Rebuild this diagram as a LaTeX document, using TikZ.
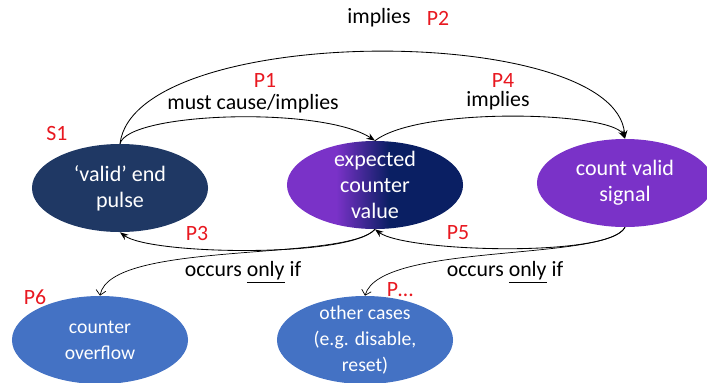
\documentclass[tikz,border=0pt]{standalone}
\usepackage{fontspec}
\setmainfont{Carlito}
\usetikzlibrary{positioning, arrows.meta, shapes.geometric}

\definecolor{pulsenavy}{RGB}{31,56,100}
\definecolor{cntpurple}{RGB}{122,50,200}
\definecolor{caseblue}{RGB}{68,114,196}
\definecolor{propred}{RGB}{232,24,32}

% purple on the left, dark blue on the right
\pgfdeclarehorizontalshading{expectshade}{100bp}{%
  rgb(0bp)=(0.478,0.196,0.784); rgb(39bp)=(0.478,0.196,0.784);
  rgb(54bp)=(0.04,0.12,0.39); rgb(100bp)=(0.04,0.12,0.39)}

\begin{document}
\begin{tikzpicture}[
  x=0.025cm, y=-0.025cm,
  lbl/.style={font=\fontsize{15.5}{18.5}\selectfont, inner sep=1pt},
  redlbl/.style={lbl, text=propred},
  state/.style={
    ellipse, draw=none, inner sep=0pt,
    minimum width=4.4cm, minimum height=2.2cm
  },
  statetxt/.style={
    text=white, align=center, inner sep=0pt,
    font=\fontsize{15.7}{18.5}\selectfont
  },
  casetxt/.style={statetxt, font=\fontsize{14}{18.5}\selectfont},
  implarr/.style={-{Stealth[length=6pt, width=4.5pt]}, line width=0.6pt},
  onlyarr/.style={-{Straight Barb[length=3.5pt, width=7pt]}, line width=0.5pt},
]
\useasboundingbox (0,0) rectangle (707,382);

\node[state, fill=pulsenavy] (pulse) at (120,188) {};
\node[state, shade, shading=expectshade] (expect) at (375,185) {};
\node[state, fill=cntpurple] (cnt) at (625,183) {};
\node[state, fill=caseblue] (ovf) at (100,340) {};
\node[state, fill=caseblue] (other) at (365,340) {};

\node[statetxt] (pulsetxt) at (pulse) {‘valid’ end\\pulse};
\node[statetxt] (expecttxt) at (expect) {expected\\counter\\value};
\node[statetxt] (cnttxt) at (cnt) {count valid\\signal};
\node[casetxt] (ovftxt) at (ovf) {counter\\overflow};
\node[casetxt] (othertxt) at (other) {other cases\\(e.g. disable,\\reset)};

% implications on top
\draw[implarr] (pulse.north) .. controls (135,22) and (615,22) .. (cnt.north);
\draw[implarr] (pulse.north) .. controls (128,112) and (322,106) .. (expect.north);
\draw[implarr] (expect.north) .. controls (420,106) and (612,112) .. (cnt.north);

% back arrows underneath
\draw[implarr] (expect.south) .. controls (350,258) and (150,255) .. (pulse.south);
\draw[implarr] (cnt.south) .. controls (610,258) and (405,252) .. (expect.south);
\draw[onlyarr] (expect.south) .. controls (345,262) and (110,240) .. (ovf.north);
\draw[onlyarr] (cnt.south) .. controls (605,262) and (380,242) .. (other.north);

\node[lbl] (p2txt) at (379,18) {implies};
\node[redlbl] (p2) at (438,18) {P2};
\node[redlbl] (p1) at (265,80) {P1};
\node[lbl] (p1txt) at (253,104) {must cause/implies};
\node[redlbl] (p4) at (503,80) {P4};
\node[lbl] (p4txt) at (498,101) {implies};
\node[redlbl] (s1) at (57,133) {S1};
\node[redlbl] (p3) at (197,233) {P3};
\node[redlbl] (p5) at (458,233) {P5};
\node[lbl] (onlyl) at (243,272) {occurs \underline{only} if};
\node[lbl] (onlyr) at (505,272) {occurs \underline{only} if};
\node[redlbl] (p6) at (35,297) {P6};
\node[redlbl] (pmore) at (400,290) {P…};

\end{tikzpicture}
\end{document}
